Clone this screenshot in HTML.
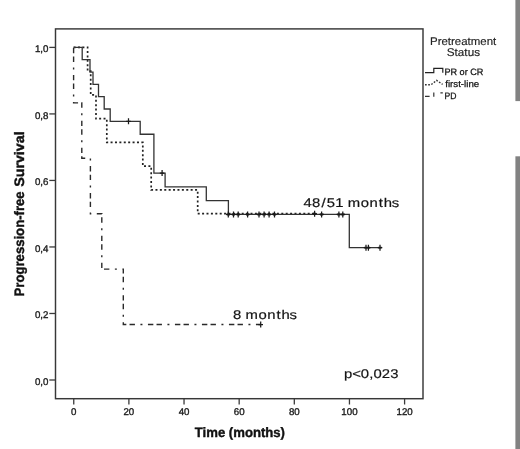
<!DOCTYPE html>
<html><head><meta charset="utf-8"><title>Kaplan-Meier</title>
<style>
html,body{margin:0;padding:0;background:#fff;}
body{width:520px;height:449px;overflow:hidden;font-family:"Liberation Sans",sans-serif;}
svg{display:block;}
text{font-family:"Liberation Sans",sans-serif;fill:#1a1a1a;text-rendering:geometricPrecision;}
.tk{font-size:9.7px;fill:#1c1c1c;stroke:#1c1c1c;stroke-width:0.35px;}
.lg{font-size:9.2px;fill:#111;stroke:#111;stroke-width:0.25px;}
.lt{font-size:11.2px;fill:#222;stroke:#222;stroke-width:0.15px;}
.ax{font-size:13.7px;font-weight:bold;fill:#111;stroke:#111;stroke-width:0.4px;}
.an{font-size:12.6px;fill:#151515;stroke:#151515;stroke-width:0.2px;}
</style></head><body>
<svg width="520" height="449" viewBox="0 0 520 449">
<rect x="0" y="0" width="520" height="449" fill="#fff"/>
<g id="chart" style="filter:blur(0.55px)">

<rect x="515.4" y="-2" width="7" height="103.1" fill="#828282"/>
<rect x="515.4" y="156.3" width="7" height="296" fill="#828282"/>
<rect x="55.5" y="28.9" width="367.5" height="369.8" fill="none" stroke="#383838" stroke-width="1.45"/>
<line x1="49.3" y1="47.40" x2="55.5" y2="47.40" stroke="#3a3a3a" stroke-width="1.3"/>
<text class="tk" x="48.4" y="52.00" text-anchor="end">1,0</text>
<line x1="49.3" y1="113.92" x2="55.5" y2="113.92" stroke="#3a3a3a" stroke-width="1.3"/>
<text class="tk" x="48.4" y="118.52" text-anchor="end">0,8</text>
<line x1="49.3" y1="180.44" x2="55.5" y2="180.44" stroke="#3a3a3a" stroke-width="1.3"/>
<text class="tk" x="48.4" y="185.04" text-anchor="end">0,6</text>
<line x1="49.3" y1="246.96" x2="55.5" y2="246.96" stroke="#3a3a3a" stroke-width="1.3"/>
<text class="tk" x="48.4" y="251.56" text-anchor="end">0,4</text>
<line x1="49.3" y1="313.48" x2="55.5" y2="313.48" stroke="#3a3a3a" stroke-width="1.3"/>
<text class="tk" x="48.4" y="318.08" text-anchor="end">0,2</text>
<line x1="49.3" y1="380.00" x2="55.5" y2="380.00" stroke="#3a3a3a" stroke-width="1.3"/>
<text class="tk" x="48.4" y="384.60" text-anchor="end">0,0</text>
<line x1="73.75" y1="398.7" x2="73.75" y2="404.5" stroke="#3a3a3a" stroke-width="1.3"/>
<text class="tk" x="73.75" y="414.5" text-anchor="middle">0</text>
<line x1="128.89" y1="398.7" x2="128.89" y2="404.5" stroke="#3a3a3a" stroke-width="1.3"/>
<text class="tk" x="128.89" y="414.5" text-anchor="middle">20</text>
<line x1="184.03" y1="398.7" x2="184.03" y2="404.5" stroke="#3a3a3a" stroke-width="1.3"/>
<text class="tk" x="184.03" y="414.5" text-anchor="middle">40</text>
<line x1="239.17" y1="398.7" x2="239.17" y2="404.5" stroke="#3a3a3a" stroke-width="1.3"/>
<text class="tk" x="239.17" y="414.5" text-anchor="middle">60</text>
<line x1="294.31" y1="398.7" x2="294.31" y2="404.5" stroke="#3a3a3a" stroke-width="1.3"/>
<text class="tk" x="294.31" y="414.5" text-anchor="middle">80</text>
<line x1="349.45" y1="398.7" x2="349.45" y2="404.5" stroke="#3a3a3a" stroke-width="1.3"/>
<text class="tk" x="349.45" y="414.5" text-anchor="middle">100</text>
<line x1="404.59" y1="398.7" x2="404.59" y2="404.5" stroke="#3a3a3a" stroke-width="1.3"/>
<text class="tk" x="404.59" y="414.5" text-anchor="middle">120</text>
<text class="ax" x="194.8" y="437.2" textLength="90.2" lengthAdjust="spacingAndGlyphs">Time (months)</text>
<text class="ax" transform="translate(24.3,296.4) rotate(-90)"><tspan x="0" textLength="105" lengthAdjust="spacingAndGlyphs">Progression-free</tspan> <tspan x="109.6" textLength="55.4" lengthAdjust="spacingAndGlyphs">Survival</tspan></text>
<path d="M73.60,47.40 L87.60,47.40 L87.60,71.16 L90.70,71.16 L90.70,94.91 L96.00,94.91 L96.00,118.67 L106.80,118.67 L106.80,142.43 L142.80,142.43 L142.80,166.19 L151.20,166.19 L151.20,189.94 L197.70,189.94 L197.70,213.70 L314.60,213.70" fill="none" stroke="#222" stroke-width="1.7" stroke-dasharray="2 2.4"/>
<path d="M73.60,47.40 L73.60,102.83 L81.80,102.83 L81.80,158.27 L90.40,158.27 L90.40,213.70 L101.80,213.70 L101.80,269.13 L123.30,269.13 L123.30,324.57 L260.70,324.57" fill="none" stroke="#2a2a2a" stroke-width="1.4" stroke-dasharray="5.4 3.2 5.4 5.5 2 5.5" stroke-dashoffset="26.5"/>
<path d="M73.60,47.40 L82.20,47.40 L82.20,59.72 L90.00,59.72 L90.00,72.04 L93.00,72.04 L93.00,84.36 L98.50,84.36 L98.50,96.67 L104.20,96.67 L104.20,108.99 L110.20,108.99 L110.20,121.31 L140.20,121.31 L140.20,134.24 L153.90,134.24 L153.90,173.06 L165.10,173.06 L165.10,186.86 L206.30,186.86 L206.30,200.63 L228.40,200.63 L228.40,214.43 L349.30,214.43 L349.30,247.63 L379.80,247.63" fill="none" stroke="#333" stroke-width="1.3"/>
<path d="M128.50,118.31V124.31M126.20,121.31H130.80 M162.10,170.06V176.06M159.80,173.06H164.40 M228.30,211.43V217.43M226.00,214.43H230.60 M233.50,211.43V217.43M231.20,214.43H235.80 M238.20,211.43V217.43M235.90,214.43H240.50 M247.60,211.43V217.43M245.30,214.43H249.90 M259.00,211.43V217.43M256.70,214.43H261.30 M264.10,211.43V217.43M261.80,214.43H266.40 M269.10,211.43V217.43M266.80,214.43H271.40 M274.50,211.43V217.43M272.20,214.43H276.80 M321.60,211.43V217.43M319.30,214.43H323.90 M338.90,211.43V217.43M336.60,214.43H341.20 M342.80,211.43V217.43M340.50,214.43H345.10 M366.00,244.63V250.63M363.70,247.63H368.30 M368.40,244.63V250.63M366.10,247.63H370.70 M380.00,244.63V250.63M377.70,247.63H382.30 M314.60,210.70V216.70M312.30,213.70H316.90 M260.70,321.57V327.57M258.40,324.57H263.00" fill="none" stroke="#1a1a1a" stroke-width="1.25"/>
<path d="M226.70,214.43H229.90 M231.90,214.43H235.10 M236.60,214.43H239.80 M246.00,214.43H249.20 M257.40,214.43H260.60 M262.50,214.43H265.70 M267.50,214.43H270.70 M272.90,214.43H276.10 M320.00,214.43H323.20 M337.30,214.43H340.50 M341.20,214.43H344.40 M364.40,247.63H367.60 M366.80,247.63H370.00 M378.40,247.63H381.60 M313.00,213.70H316.20" fill="none" stroke="#1a1a1a" stroke-width="1.9"/>
<text class="an" transform="scale(1.18,1)" x="257.27 264.40 272.43 276.96 284.09 291.00 294.71 305.79 313.19 320.99 325.28 332.08" y="206.6">48/51 months</text>
<text class="an" transform="scale(1.18,1)" x="197.44 204.34 208.06 219.13 226.53 234.33 238.63 245.42" y="318.6">8 months</text>
<text class="an" transform="scale(1.18,1)" x="291.55 298.57 305.81 312.89 316.46 323.59 330.72" y="378.0">p&lt;0,023</text>
<text class="lt" x="430" y="44.8" textLength="66.3" lengthAdjust="spacingAndGlyphs">Pretreatment</text>
<text class="lt" x="446.8" y="56.3" textLength="33.2" lengthAdjust="spacingAndGlyphs">Status</text>
<path d="M425.0,72.6H433.8V68.4H442.8V72.8" fill="none" stroke="#222" stroke-width="1.2"/>
<path d="M425.0,84.8H431.0L436.6,80.4L442.6,84.4" fill="none" stroke="#333" stroke-width="1.4" stroke-dasharray="1.7 1.5"/>
<path d="M425.0,96.3H429.6M433.8,92.6V96.8M440.4,92.8H442.8" fill="none" stroke="#333" stroke-width="1.2"/>
<text class="lg" x="444.4" y="75.2" textLength="39" lengthAdjust="spacingAndGlyphs">PR or CR</text>
<text class="lg" x="445.2" y="87" textLength="34" lengthAdjust="spacingAndGlyphs">first-line</text>
<text class="lg" x="444.4" y="99.2" textLength="12" lengthAdjust="spacingAndGlyphs">PD</text>
</g></svg></body></html>
